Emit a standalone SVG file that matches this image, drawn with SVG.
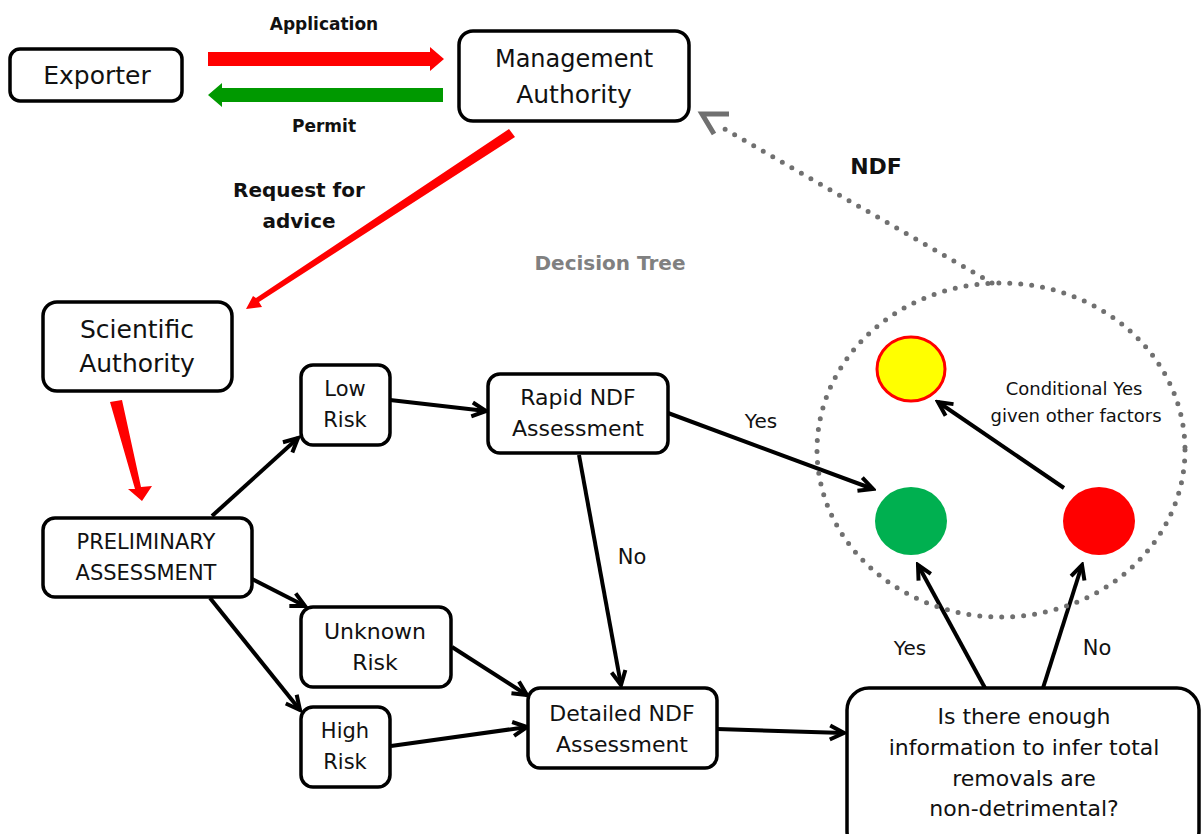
<svg xmlns="http://www.w3.org/2000/svg" width="1202" height="834" viewBox="0 0 1202 834">
<defs>
<style>
.box{fill:#fff;stroke:#000;stroke-width:3.5}
.t{font-family:"DejaVu Sans","Liberation Sans",sans-serif;fill:#111;text-anchor:middle;dominant-baseline:central}
.b{font-family:"DejaVu Sans","Liberation Sans",sans-serif;font-weight:bold;fill:#111;text-anchor:middle;dominant-baseline:central}
.arr{fill:none;stroke:#000;stroke-width:4;marker-end:url(#ah)}
.dot{fill:none;stroke:#707070;stroke-width:5;stroke-linecap:round;stroke-dasharray:0 11}
</style>
<marker id="ah" viewBox="0 0 20 20" refX="17" refY="10" markerWidth="20" markerHeight="20" markerUnits="userSpaceOnUse" orient="auto">
<path d="M3,3 L17,10 L3,17" fill="none" stroke="#000" stroke-width="4"/>
</marker>
</defs>
<rect width="1202" height="834" fill="#fff"/>

<g id="connectors">
<polygon points="208,52 430,52 430,47 444,59 430,71 430,66 208,66" fill="#ff0000"/>
<polygon points="443,88 222,88 222,83 208,95 222,107 222,102 443,102" fill="#009900"/>
<polygon points="509,129 515,137 259,302 262,307 246,309 253,296 256,298" fill="#ff0000"/>
<polygon points="110,402 122,400 141,487 152,486 142,501 128,489 135,489" fill="#ff0000"/>
<line class="arr" x1="212" y1="516" x2="298" y2="438"/>
<line class="arr" x1="252" y1="579" x2="305" y2="606"/>
<line class="arr" x1="210" y1="598" x2="300" y2="710"/>
<line class="arr" x1="390" y1="400" x2="486" y2="411"/>
<line class="arr" x1="668" y1="413" x2="873" y2="489"/>
<line class="arr" x1="579" y1="455" x2="621" y2="685"/>
<line class="arr" x1="452" y1="647" x2="527" y2="695"/>
<line class="arr" x1="391" y1="746" x2="527" y2="727"/>
<line class="arr" x1="717" y1="729" x2="844" y2="733"/>
<line class="arr" x1="985" y1="688" x2="918" y2="565"/>
<line class="arr" x1="1043" y1="688" x2="1082" y2="565"/>
<line class="arr" x1="1064" y1="488" x2="938" y2="402"/>
<ellipse class="dot" cx="1001" cy="450" rx="184" ry="167"/>
<line class="dot" x1="992" y1="283" x2="716" y2="124"/>
<path d="M729,114 L702,114 L714,134" fill="none" stroke="#707070" stroke-width="5" stroke-linejoin="miter"/>
</g>

<g id="labels">
<text class="b" x="324" y="24" font-size="17">Application</text>
<text class="b" x="324" y="126" font-size="17">Permit</text>
<text class="b" x="299" y="190" font-size="20">Request for</text>
<text class="b" x="299" y="221" font-size="20">advice</text>
<text class="b" x="610" y="263" font-size="20" style="fill:#808080">Decision Tree</text>
<text class="b" x="876" y="166" font-size="22">NDF</text>
<text class="t" x="761" y="421" font-size="20">Yes</text>
<text class="t" x="632" y="557" font-size="21">No</text>
<text class="t" x="910" y="648" font-size="20">Yes</text>
<text class="t" x="1097" y="648" font-size="21">No</text>
<text class="t" x="1074" y="388" font-size="18">Conditional Yes</text>
<text class="t" x="1076" y="415" font-size="18">given other factors</text>
</g>

<g id="exporter">
<rect class="box" x="10" y="49" width="172" height="52" rx="10"/>
<text class="t" x="97" y="75" font-size="25">Exporter</text>
</g>
<g id="management-authority">
<rect class="box" x="459" y="31" width="230" height="90" rx="14"/>
<text class="t" x="574" y="59" font-size="24">Management</text>
<text class="t" x="574" y="94" font-size="25">Authority</text>
</g>
<g id="scientific-authority">
<rect class="box" x="43" y="302" width="189" height="89" rx="14"/>
<text class="t" x="137" y="329" font-size="25">Scientific</text>
<text class="t" x="137" y="363" font-size="25">Authority</text>
</g>
<g id="preliminary-assessment">
<rect class="box" x="43" y="518" width="209" height="79" rx="12"/>
<text class="t" x="146" y="542" font-size="21">PRELIMINARY</text>
<text class="t" x="146" y="573" font-size="21">ASSESSMENT</text>
</g>
<g id="low-risk">
<rect class="box" x="301" y="365" width="89" height="80" rx="12"/>
<text class="t" x="345" y="389" font-size="21">Low</text>
<text class="t" x="345" y="420" font-size="21">Risk</text>
</g>
<g id="rapid-ndf">
<rect class="box" x="488" y="374" width="180" height="79" rx="12"/>
<text class="t" x="578" y="397" font-size="22">Rapid NDF</text>
<text class="t" x="578" y="428" font-size="22">Assessment</text>
</g>
<g id="unknown-risk">
<rect class="box" x="301" y="607" width="150" height="80" rx="12"/>
<text class="t" x="375" y="631" font-size="22">Unknown</text>
<text class="t" x="375" y="662" font-size="22">Risk</text>
</g>
<g id="high-risk">
<rect class="box" x="301" y="707" width="89" height="80" rx="12"/>
<text class="t" x="345" y="731" font-size="21">High</text>
<text class="t" x="345" y="762" font-size="21">Risk</text>
</g>
<g id="detailed-ndf">
<rect class="box" x="528" y="688" width="189" height="80" rx="12"/>
<text class="t" x="622" y="713" font-size="22">Detailed NDF</text>
<text class="t" x="622" y="744" font-size="22">Assessment</text>
</g>
<g id="question">
<rect class="box" x="847" y="688" width="352" height="165" rx="22"/>
<text class="t" x="1024" y="716" font-size="22">Is there enough</text>
<text class="t" x="1024" y="747" font-size="22">information to infer total</text>
<text class="t" x="1024" y="778" font-size="22">removals are</text>
<text class="t" x="1024" y="808" font-size="22">non-detrimental?</text>
</g>
<g id="yellow-light">
<ellipse cx="911" cy="369" rx="34" ry="32" fill="#ffff00" stroke="#ff0000" stroke-width="3"/>
</g>
<g id="green-light">
<ellipse cx="911" cy="521" rx="36" ry="34" fill="#00b050"/>
</g>
<g id="red-light">
<ellipse cx="1099" cy="521" rx="36" ry="34" fill="#ff0000"/>
</g>
</svg>
